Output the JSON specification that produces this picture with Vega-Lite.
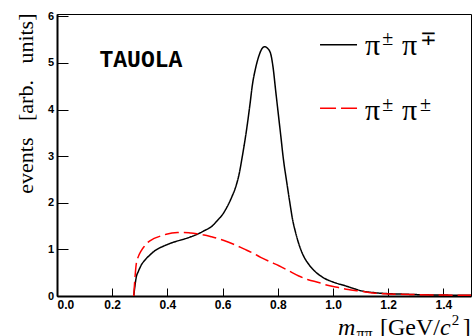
{
  "$schema": "https://vega.github.io/schema/vega-lite/v6.json",
  "autosize": {"type": "none"},
  "width": 414,
  "height": 282,
  "padding": {"left": 57, "top": 14, "right": 4, "bottom": 40},
  "background": "white",
  "config": {
    "view": {"stroke": "black", "strokeWidth": 1},
    "axis": {"grid": false, "domainColor": "black", "domainWidth": 2, "tickColor": "black", "tickWidth": 1, "labelColor": "black", "labelFont": "Liberation Sans", "labelFontWeight": "bold"}
  },
  "data": {"values": [
    {"m": 0.278, "ev": 0.0, "s": "pm"},
    {"m": 0.282, "ev": 0.2, "s": "pm"},
    {"m": 0.287, "ev": 0.40, "s": "pm"},
    {"m": 0.295, "ev": 0.53, "s": "pm"},
    {"m": 0.305, "ev": 0.66, "s": "pm"},
    {"m": 0.32, "ev": 0.78, "s": "pm"},
    {"m": 0.335, "ev": 0.87, "s": "pm"},
    {"m": 0.35, "ev": 0.95, "s": "pm"},
    {"m": 0.365, "ev": 1.01, "s": "pm"},
    {"m": 0.39, "ev": 1.08, "s": "pm"},
    {"m": 0.425, "ev": 1.16, "s": "pm"},
    {"m": 0.46, "ev": 1.22, "s": "pm"},
    {"m": 0.485, "ev": 1.27, "s": "pm"},
    {"m": 0.51, "ev": 1.33, "s": "pm"},
    {"m": 0.533, "ev": 1.40, "s": "pm"},
    {"m": 0.56, "ev": 1.49, "s": "pm"},
    {"m": 0.581, "ev": 1.62, "s": "pm"},
    {"m": 0.60, "ev": 1.75, "s": "pm"},
    {"m": 0.617, "ev": 1.92, "s": "pm"},
    {"m": 0.633, "ev": 2.12, "s": "pm"},
    {"m": 0.648, "ev": 2.35, "s": "pm"},
    {"m": 0.66, "ev": 2.62, "s": "pm"},
    {"m": 0.671, "ev": 2.98, "s": "pm"},
    {"m": 0.68, "ev": 3.30, "s": "pm"},
    {"m": 0.69, "ev": 3.70, "s": "pm"},
    {"m": 0.70, "ev": 4.15, "s": "pm"},
    {"m": 0.707, "ev": 4.49, "s": "pm"},
    {"m": 0.72, "ev": 4.90, "s": "pm"},
    {"m": 0.732, "ev": 5.16, "s": "pm"},
    {"m": 0.742, "ev": 5.30, "s": "pm"},
    {"m": 0.752, "ev": 5.35, "s": "pm"},
    {"m": 0.762, "ev": 5.32, "s": "pm"},
    {"m": 0.774, "ev": 5.20, "s": "pm"},
    {"m": 0.783, "ev": 4.90, "s": "pm"},
    {"m": 0.792, "ev": 4.42, "s": "pm"},
    {"m": 0.80, "ev": 4.00, "s": "pm"},
    {"m": 0.81, "ev": 3.48, "s": "pm"},
    {"m": 0.82, "ev": 2.95, "s": "pm"},
    {"m": 0.834, "ev": 2.38, "s": "pm"},
    {"m": 0.845, "ev": 1.95, "s": "pm"},
    {"m": 0.852, "ev": 1.69, "s": "pm"},
    {"m": 0.865, "ev": 1.35, "s": "pm"},
    {"m": 0.876, "ev": 1.12, "s": "pm"},
    {"m": 0.89, "ev": 0.90, "s": "pm"},
    {"m": 0.912, "ev": 0.68, "s": "pm"},
    {"m": 0.94, "ev": 0.50, "s": "pm"},
    {"m": 0.972, "ev": 0.37, "s": "pm"},
    {"m": 1.00, "ev": 0.30, "s": "pm"},
    {"m": 1.044, "ev": 0.22, "s": "pm"},
    {"m": 1.075, "ev": 0.16, "s": "pm"},
    {"m": 1.104, "ev": 0.11, "s": "pm"},
    {"m": 1.152, "ev": 0.07, "s": "pm"},
    {"m": 1.2, "ev": 0.05, "s": "pm"},
    {"m": 1.25, "ev": 0.04, "s": "pm"},
    {"m": 1.3, "ev": 0.03, "s": "pm"},
    {"m": 1.4, "ev": 0.02, "s": "pm"},
    {"m": 1.5, "ev": 0.015, "s": "pm"},
    {"m": 0.278, "ev": 0.0, "s": "pp"},
    {"m": 0.282, "ev": 0.35, "s": "pp"},
    {"m": 0.287, "ev": 0.68, "s": "pp"},
    {"m": 0.295, "ev": 0.85, "s": "pp"},
    {"m": 0.305, "ev": 0.97, "s": "pp"},
    {"m": 0.317, "ev": 1.07, "s": "pp"},
    {"m": 0.329, "ev": 1.15, "s": "pp"},
    {"m": 0.35, "ev": 1.23, "s": "pp"},
    {"m": 0.377, "ev": 1.29, "s": "pp"},
    {"m": 0.40, "ev": 1.33, "s": "pp"},
    {"m": 0.437, "ev": 1.36, "s": "pp"},
    {"m": 0.46, "ev": 1.365, "s": "pp"},
    {"m": 0.485, "ev": 1.35, "s": "pp"},
    {"m": 0.51, "ev": 1.33, "s": "pp"},
    {"m": 0.533, "ev": 1.31, "s": "pp"},
    {"m": 0.56, "ev": 1.27, "s": "pp"},
    {"m": 0.605, "ev": 1.19, "s": "pp"},
    {"m": 0.64, "ev": 1.11, "s": "pp"},
    {"m": 0.677, "ev": 1.01, "s": "pp"},
    {"m": 0.71, "ev": 0.92, "s": "pp"},
    {"m": 0.738, "ev": 0.83, "s": "pp"},
    {"m": 0.77, "ev": 0.74, "s": "pp"},
    {"m": 0.804, "ev": 0.65, "s": "pp"},
    {"m": 0.84, "ev": 0.54, "s": "pp"},
    {"m": 0.876, "ev": 0.43, "s": "pp"},
    {"m": 0.91, "ev": 0.35, "s": "pp"},
    {"m": 0.948, "ev": 0.29, "s": "pp"},
    {"m": 0.98, "ev": 0.23, "s": "pp"},
    {"m": 1.02, "ev": 0.18, "s": "pp"},
    {"m": 1.055, "ev": 0.14, "s": "pp"},
    {"m": 1.092, "ev": 0.11, "s": "pp"},
    {"m": 1.152, "ev": 0.06, "s": "pp"},
    {"m": 1.2, "ev": 0.045, "s": "pp"},
    {"m": 1.3, "ev": 0.03, "s": "pp"},
    {"m": 1.4, "ev": 0.02, "s": "pp"},
    {"m": 1.5, "ev": 0.015, "s": "pp"}
  ]},
  "layer": [
    {
      "mark": {"type": "line", "strokeWidth": 1.5, "interpolate": "monotone", "clip": true},
      "encoding": {
        "x": {"field": "m", "type": "quantitative", "scale": {"domain": [0, 1.5], "nice": false, "zero": false},
          "axis": {"title": null, "values": [0, 0.2, 0.4, 0.6, 0.8, 1.0, 1.2, 1.4], "format": ".1f", "labelFontSize": 12, "tickSize": -8, "labelPadding": 11.5}},
        "y": {"field": "ev", "type": "quantitative", "scale": {"domain": [0, 6.05], "nice": false},
          "axis": {"values": [0, 1, 2, 3, 4, 5, 6], "format": "d", "labelFontSize": 11, "tickSize": -11, "labelPadding": 14.5,
            "title": "events\u00a0\u00a0\u00a0[arb.\u00a0\u00a0\u00a0units]", "titleFont": "Liberation Serif", "titleFontSize": 22, "titleFontWeight": "normal", "titleColor": "black",
            "titleAngle": -90, "titleAlign": "right", "titleBaseline": "alphabetic", "titleX": -25, "titleY": -1}},
        "color": {"field": "s", "type": "nominal", "scale": {"domain": ["pm", "pp"], "range": ["black", "#ff0000"]}, "legend": null},
        "strokeDash": {"field": "s", "type": "nominal", "scale": {"domain": ["pm", "pp"], "range": [[1, 0], [14, 5]]}, "legend": null}
      }
    },
    {
      "data": {"values": [{}]},
      "mark": {"type": "text", "text": "TAUOLA", "font": "Liberation Mono", "fontWeight": "bold", "fontSize": 23, "align": "center", "baseline": "middle", "color": "black"},
      "encoding": {"x": {"datum": 0.304, "type": "quantitative"}, "y": {"datum": 5.07, "type": "quantitative"}}
    },
    {
      "data": {"values": [{}]},
      "mark": {"type": "rule", "color": "black", "strokeWidth": 1.5},
      "encoding": {"x": {"datum": 0.953, "type": "quantitative"}, "x2": {"datum": 1.087}, "y": {"datum": 5.39, "type": "quantitative"}}
    },
    {
      "data": {"values": [{}]},
      "mark": {"type": "rule", "color": "#ff0000", "strokeWidth": 1.5, "strokeDash": [16, 5]},
      "encoding": {"x": {"datum": 0.953, "type": "quantitative"}, "x2": {"datum": 1.087}, "y": {"datum": 4.03, "type": "quantitative"}}
    },
    {
      "data": {"values": [{}]},
      "mark": {"type": "text", "text": "π", "font": "Liberation Serif", "fontSize": 30, "align": "left", "baseline": "alphabetic", "color": "black"},
      "encoding": {"x": {"datum": 1.116, "type": "quantitative"}, "y": {"datum": 5.17, "type": "quantitative"}}
    },
    {
      "data": {"values": [{}]},
      "mark": {"type": "text", "text": "±", "font": "Liberation Serif", "fontSize": 20, "align": "left", "baseline": "alphabetic", "color": "black"},
      "encoding": {"x": {"datum": 1.178, "type": "quantitative"}, "y": {"datum": 5.39, "type": "quantitative"}}
    },
    {
      "data": {"values": [{}]},
      "mark": {"type": "text", "text": "π", "font": "Liberation Serif", "fontSize": 30, "align": "left", "baseline": "alphabetic", "color": "black"},
      "encoding": {"x": {"datum": 1.25, "type": "quantitative"}, "y": {"datum": 5.17, "type": "quantitative"}}
    },
    {
      "data": {"values": [{}]},
      "mark": {"type": "text", "text": "∓", "font": "Liberation Serif", "fontSize": 20, "align": "left", "baseline": "alphabetic", "color": "black"},
      "encoding": {"x": {"datum": 1.315, "type": "quantitative"}, "y": {"datum": 5.39, "type": "quantitative"}}
    },
    {
      "data": {"values": [{}]},
      "mark": {"type": "text", "text": "π", "font": "Liberation Serif", "fontSize": 30, "align": "left", "baseline": "alphabetic", "color": "black"},
      "encoding": {"x": {"datum": 1.116, "type": "quantitative"}, "y": {"datum": 3.78, "type": "quantitative"}}
    },
    {
      "data": {"values": [{}]},
      "mark": {"type": "text", "text": "±", "font": "Liberation Serif", "fontSize": 20, "align": "left", "baseline": "alphabetic", "color": "black"},
      "encoding": {"x": {"datum": 1.178, "type": "quantitative"}, "y": {"datum": 3.97, "type": "quantitative"}}
    },
    {
      "data": {"values": [{}]},
      "mark": {"type": "text", "text": "π", "font": "Liberation Serif", "fontSize": 30, "align": "left", "baseline": "alphabetic", "color": "black"},
      "encoding": {"x": {"datum": 1.25, "type": "quantitative"}, "y": {"datum": 3.78, "type": "quantitative"}}
    },
    {
      "data": {"values": [{}]},
      "mark": {"type": "text", "text": "±", "font": "Liberation Serif", "fontSize": 20, "align": "left", "baseline": "alphabetic", "color": "black"},
      "encoding": {"x": {"datum": 1.315, "type": "quantitative"}, "y": {"datum": 3.97, "type": "quantitative"}}
    },
    {
      "data": {"values": [{}]},
      "mark": {"type": "text", "text": "m", "font": "Liberation Serif", "fontStyle": "italic", "fontSize": 24, "align": "left", "baseline": "alphabetic", "color": "black"},
      "encoding": {"x": {"datum": 1.018, "type": "quantitative"}, "y": {"datum": -0.83, "type": "quantitative"}}
    },
    {
      "data": {"values": [{}]},
      "mark": {"type": "text", "text": "ππ", "font": "Liberation Serif", "fontSize": 16, "align": "left", "baseline": "alphabetic", "color": "black"},
      "encoding": {"x": {"datum": 1.085, "type": "quantitative"}, "y": {"datum": -0.93, "type": "quantitative"}}
    },
    {
      "data": {"values": [{}]},
      "mark": {"type": "text", "text": "[GeV/", "font": "Liberation Serif", "fontSize": 24, "align": "left", "baseline": "alphabetic", "color": "black"},
      "encoding": {"x": {"datum": 1.17, "type": "quantitative"}, "y": {"datum": -0.83, "type": "quantitative"}}
    },
    {
      "data": {"values": [{}]},
      "mark": {"type": "text", "text": "c", "font": "Liberation Serif", "fontStyle": "italic", "fontSize": 24, "align": "left", "baseline": "alphabetic", "color": "black"},
      "encoding": {"x": {"datum": 1.388, "type": "quantitative"}, "y": {"datum": -0.83, "type": "quantitative"}}
    },
    {
      "data": {"values": [{}]},
      "mark": {"type": "text", "text": "2", "font": "Liberation Serif", "fontSize": 15, "align": "left", "baseline": "alphabetic", "color": "black"},
      "encoding": {"x": {"datum": 1.43, "type": "quantitative"}, "y": {"datum": -0.62, "type": "quantitative"}}
    },
    {
      "data": {"values": [{}]},
      "mark": {"type": "text", "text": "]", "font": "Liberation Serif", "fontSize": 24, "align": "left", "baseline": "alphabetic", "color": "black"},
      "encoding": {"x": {"datum": 1.47, "type": "quantitative"}, "y": {"datum": -0.83, "type": "quantitative"}}
    }
  ]
}
